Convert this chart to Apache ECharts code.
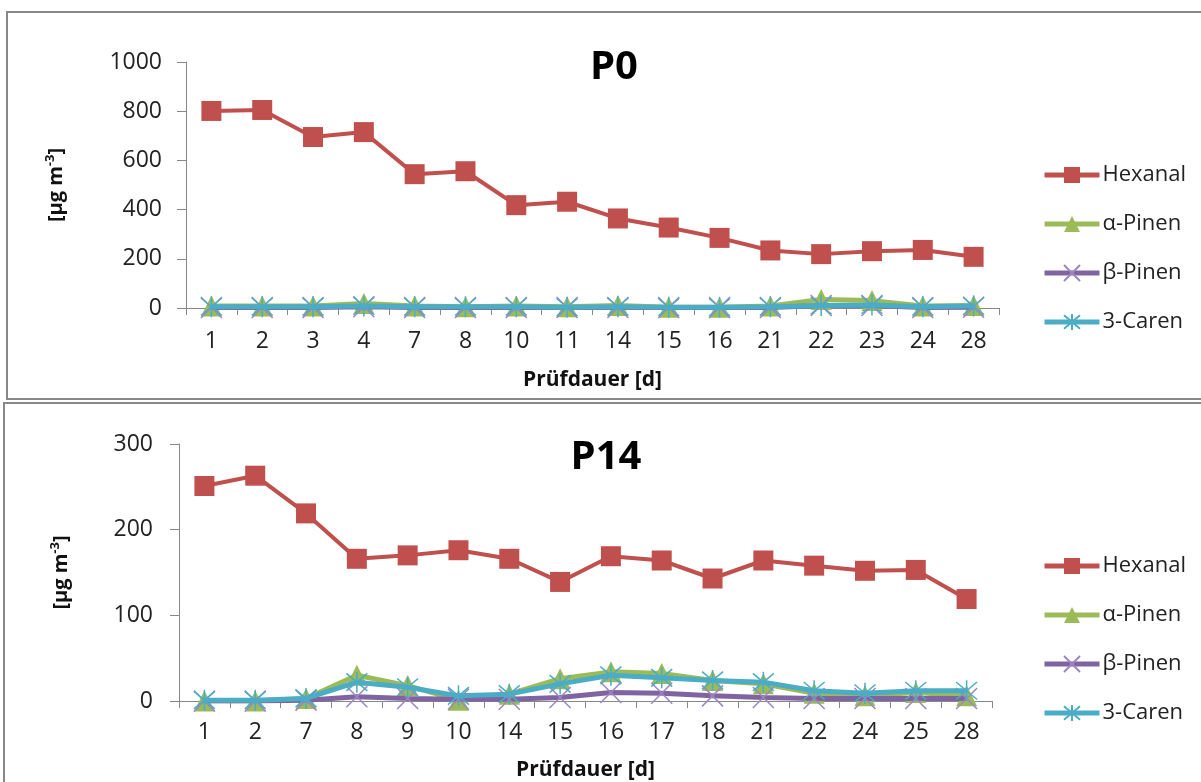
<!DOCTYPE html>
<html>
<head>
<meta charset="utf-8">
<title>P0 / P14</title>
<script src="https://cdn.jsdelivr.net/npm/echarts@6/dist/echarts.min.js"></script>
<style>
    html, body {margin: 0; padding: 0; background: #fff;}
    #chart {width: 1201px; height: 782px;}
</style>
</head>
<body>
<div id="chart"></div>
<script>
// P0: Prüfdauer in Tagen
var daysP0 = ['1', '2', '3', '4', '7', '8', '10', '11', '14', '15', '16', '21', '22', '23', '24', '28'];
var hexanalP0 = [801, 805, 695, 715, 544, 556, 418, 432, 364, 327, 285, 234, 219, 231, 236, 208];
var aPinenP0 = [8, 8, 8, 18, 8, 5, 8, 5, 10, 3, 3, 8, 35, 30, 8, 10];
var bPinenP0 = [2, 2, 2, 5, 2, 2, 2, 2, 2, 2, 2, 2, 10, 10, 2, 3];
var carenP0 = [5, 5, 5, 8, 5, 5, 5, 3, 5, 3, 3, 5, 10, 12, 5, 8];

// P14
var daysP14 = ['1', '2', '7', '8', '9', '10', '14', '15', '16', '17', '18', '21', '22', '24', '25', '28'];
var hexanalP14 = [251, 263, 219, 166, 170, 176, 166, 139, 169, 164, 143, 164, 158, 152, 153, 119];
var aPinenP14 = [0, 0, 3, 30, 18, 1, 8, 26, 34, 32, 24, 20, 9, 6, 10, 6];
var bPinenP14 = [0, 0, 1, 5, 3, 2, 2, 4, 10, 9, 6, 4, 3, 3, 3, 3];
var carenP14 = [1, 1, 3, 22, 16, 6, 8, 20, 30, 27, 24, 22, 12, 9, 12, 12];

var yTicksP0 = [0, 1000, 200];
var yTicksP14 = [0, 300, 100];

var names = ['Hexanal', 'α-Pinen', 'β-Pinen', '3-Caren'];
var colors = ['#C0504D', '#9BBB59', '#8064A2', '#4BACC6'];
var symbols = [
    'rect',
    'triangle',
    'path://M0 0L20 20M20 0L0 20',
    'path://M0 0L20 20M20 0L0 20M10 -2L10 22'
];

var font = '"Open Sans", sans-serif';

function lineSeries(i, data, gridIndex) {
    var s = {
        name: names[i],
        type: 'line',
        data: data,
        xAxisIndex: gridIndex,
        yAxisIndex: gridIndex,
        symbol: symbols[i],
        symbolSize: i == 0 ? 20 : 21,
        showAllSymbol: true,
        animation: false,
        lineStyle: {color: colors[i], width: i == 0 ? 4 : 5},
        itemStyle: {color: colors[i]},
        z: 2 + i
    };
    if (i >= 2) {
        s.itemStyle = {color: colors[i], borderColor: i == 2 ? '#9D86C0' : colors[i], borderWidth: 1.5};
    }
    return s;
}

function xAxis(days, gridIndex, gap, margin) {
    return {
        type: 'category',
        gridIndex: gridIndex,
        data: days,
        name: 'Prüfdauer [d]',
        nameLocation: 'middle',
        nameGap: gap,
        nameTextStyle: {fontFamily: font, fontSize: 21, fontWeight: 'bold', color: '#111'},
        axisLine: {lineStyle: {color: '#888', width: 1}},
        axisTick: {show: true, length: 7, lineStyle: {color: '#888'}},
        axisLabel: {fontFamily: font, fontSize: 23, color: '#222', margin: margin, interval: 0}
    };
}

function yAxis(ticks, gridIndex, gap, margin) {
    return {
        type: 'value',
        gridIndex: gridIndex,
        min: ticks[0],
        max: ticks[1],
        interval: ticks[2],
        name: '{t|[µg m}{s|-3}{t|]}',
        nameLocation: 'middle',
        nameGap: gap,
        nameRotate: 90,
        nameTextStyle: {
            rich: {
                t: {fontFamily: font, fontSize: 20, fontWeight: 'bold', color: '#111', lineHeight: 24},
                s: {fontFamily: font, fontSize: 13, fontWeight: 'bold', color: '#111', verticalAlign: 'top', lineHeight: 14, padding: [0, 0, 8, 0]}
            }
        },
        splitLine: {show: false},
        axisLine: {show: true, lineStyle: {color: '#888', width: 1}},
        axisTick: {show: true, length: 9, lineStyle: {color: '#888'}},
        axisLabel: {
            fontFamily: font, fontSize: 23, color: '#222', margin: margin,
            formatter: function (v) { return String(v); }
        }
    };
}

function legend(top) {
    return {
        data: names,
        orient: 'vertical',
        left: 1037,
        top: top,
        itemWidth: 55,
        itemHeight: 20,
        itemGap: 27,
        selectedMode: false,
        lineStyle: {width: 5},
        textStyle: {fontFamily: font, fontSize: 22, color: '#222', padding: [0, 0, 0, -2]}
    };
}

var series = [];
[hexanalP0, aPinenP0, bPinenP0, carenP0].forEach(function (d, i) {
    series.push(lineSeries(i, d, 0));
});
[hexanalP14, aPinenP14, bPinenP14, carenP14].forEach(function (d, i) {
    series.push(lineSeries(i, d, 1));
});

var myChart = echarts.init(document.getElementById('chart'));
var option = {
    backgroundColor: '#fff',
    animation: false,
    title: [
        {text: 'P0', left: 609, top: 63, textAlign: 'center', textVerticalAlign: 'middle',
            textStyle: {fontFamily: font, fontSize: 40, fontWeight: 'bold', color: '#000'}},
        {text: 'P14', left: 601, top: 453, textAlign: 'center', textVerticalAlign: 'middle',
            textStyle: {fontFamily: font, fontSize: 40, fontWeight: 'bold', color: '#000'}}
    ],
    grid: [
        {left: 186, right: 202, top: 62, bottom: 474},
        {left: 179, right: 209, top: 444, bottom: 80}
    ],
    xAxis: [xAxis(daysP0, 0, 62, 22), xAxis(daysP14, 1, 59, 20)],
    yAxis: [yAxis(yTicksP0, 0, 118, 24), yAxis(yTicksP14, 1, 106, 26)],
    legend: [legend(159), legend(550)],
    // panel frames
    graphic: [
        {type: 'rect', shape: {x: 7, y: 12, width: 1210, height: 387}, silent: true,
            style: {fill: 'none', stroke: '#888', lineWidth: 2}},
        {type: 'rect', shape: {x: 4, y: 403, width: 1210, height: 400}, silent: true,
            style: {fill: 'none', stroke: '#888', lineWidth: 2}}
    ],
    series: series
};

myChart.setOption(option);
</script>
</body>
</html>
